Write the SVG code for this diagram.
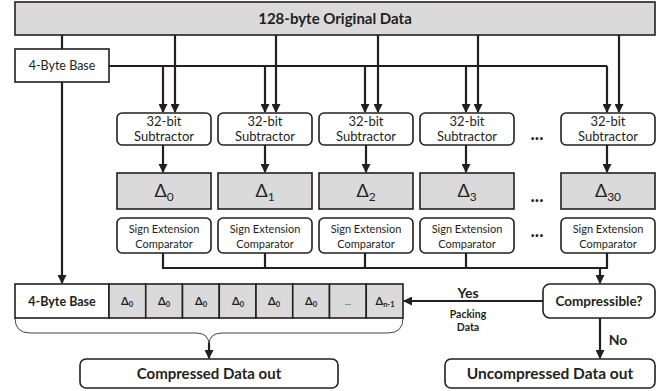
<svg xmlns="http://www.w3.org/2000/svg" width="661" height="391" viewBox="0 0 661 391">
  <style>
    text { font-family: Lato, "Open Sans", "Liberation Sans", sans-serif; fill: #231f20; text-anchor: middle; }
    .box { fill: #ffffff; stroke: #231f20; stroke-width: 1.6; }
    .gray { fill: #dadada; stroke: #231f20; stroke-width: 1.6; }
    .wire { fill: none; stroke: #231f20; stroke-width: 2.2; }
    .thin { fill: none; stroke: #444; stroke-width: 1; }
    .b { font-weight: bold; }
    .sub { font-size: 13px; }
    .cmp { font-size: 11px; }
    .dl { font-size: 18px; }
    .rd { font-size: 11px; font-weight: bold; }
    .dots { font-size: 18px; font-weight: bold; }
  </style>
  <defs>
    <marker id="arr" markerWidth="9" markerHeight="9" refX="8" refY="4.5" orient="auto" markerUnits="userSpaceOnUse">
      <path d="M0,0 L9,4.5 L0,9 Z" fill="#231f20"/>
    </marker>
  </defs>

  <rect width="661" height="391" fill="#ffffff"/>

  <!-- connectors -->
  <g id="connectors">
    <!-- original data to base and subtractors -->
    <path class="wire" d="M62,35 V49"/>
    <path class="wire" d="M109,66 H607"/>
    <path class="wire" marker-end="url(#arr)" d="M163,66 V112"/>
    <path class="wire" marker-end="url(#arr)" d="M265,66 V112"/>
    <path class="wire" marker-end="url(#arr)" d="M365,66 V112"/>
    <path class="wire" marker-end="url(#arr)" d="M466,66 V112"/>
    <path class="wire" marker-end="url(#arr)" d="M607,66 V112"/>
    <path class="wire" marker-end="url(#arr)" d="M175,35 V112"/>
    <path class="wire" marker-end="url(#arr)" d="M276,35 V112"/>
    <path class="wire" marker-end="url(#arr)" d="M378,35 V112"/>
    <path class="wire" marker-end="url(#arr)" d="M478,35 V112"/>
    <path class="wire" marker-end="url(#arr)" d="M619,35 V112"/>
    <!-- subtractor to delta -->
    <path class="wire" marker-end="url(#arr)" d="M163,145 V172"/>
    <path class="wire" marker-end="url(#arr)" d="M265,145 V172"/>
    <path class="wire" marker-end="url(#arr)" d="M366,145 V172"/>
    <path class="wire" marker-end="url(#arr)" d="M466,145 V172"/>
    <path class="wire" marker-end="url(#arr)" d="M607,145 V172"/>
    <!-- comparators to decision -->
    <path class="wire" d="M163,253 V268 H607 V253 M265,253 V268 M365,253 V268 M466,253 V268"/>
    <path class="wire" marker-end="url(#arr)" d="M600,268 V283"/>
    <!-- base straight into the packed register -->
    <path class="wire" marker-end="url(#arr)" d="M62,82 V283"/>
    <!-- yes / no -->
    <path class="wire" marker-end="url(#arr)" d="M543,301 H404"/>
    <path class="wire" marker-end="url(#arr)" d="M600,318 V358"/>
    <!-- brace under the register -->
    <path class="thin" d="M15,318 Q15,333 30,333 H196 Q209,333 209,345 Q209,333 222,333 H388 Q403,333 403,318"/>
    <path class="wire" marker-end="url(#arr)" d="M209,343 V358"/>
  </g>

  <g id="original-data">
    <rect class="gray" x="15" y="2" width="640" height="33" fill="#dedede"/>
    <text class="b" x="335" y="24" font-size="15">128-byte Original Data</text>
  </g>

  <g id="base">
    <rect class="box" x="15" y="49" width="94" height="33"/>
    <text x="62" y="70" font-size="12.5">4-Byte Base</text>
  </g>

  <g id="subtractor-0">
    <rect class="box" x="117" y="113" width="94" height="32" rx="5"/>
    <text class="sub" x="164" y="126">32-bit</text>
    <text class="sub" x="164" y="141">Subtractor</text>
  </g>
  <g id="subtractor-1">
    <rect class="box" x="218" y="113" width="94" height="32" rx="5"/>
    <text class="sub" x="265" y="126">32-bit</text>
    <text class="sub" x="265" y="141">Subtractor</text>
  </g>
  <g id="subtractor-2">
    <rect class="box" x="319" y="113" width="94" height="32" rx="5"/>
    <text class="sub" x="366" y="126">32-bit</text>
    <text class="sub" x="366" y="141">Subtractor</text>
  </g>
  <g id="subtractor-3">
    <rect class="box" x="420" y="113" width="94" height="32" rx="5"/>
    <text class="sub" x="467" y="126">32-bit</text>
    <text class="sub" x="467" y="141">Subtractor</text>
  </g>
  <g id="subtractor-30">
    <rect class="box" x="561" y="113" width="94" height="32" rx="5"/>
    <text class="sub" x="608" y="126">32-bit</text>
    <text class="sub" x="608" y="141">Subtractor</text>
  </g>

  <g id="delta-0">
    <rect class="gray" x="117" y="173" width="94" height="36"/>
    <text class="dl" x="164" y="197">Δ<tspan font-size="12" dy="4">0</tspan></text>
  </g>
  <g id="delta-1">
    <rect class="gray" x="218" y="173" width="94" height="36"/>
    <text class="dl" x="265" y="197">Δ<tspan font-size="12" dy="4">1</tspan></text>
  </g>
  <g id="delta-2">
    <rect class="gray" x="319" y="173" width="94" height="36"/>
    <text class="dl" x="366" y="197">Δ<tspan font-size="12" dy="4">2</tspan></text>
  </g>
  <g id="delta-3">
    <rect class="gray" x="420" y="173" width="94" height="36"/>
    <text class="dl" x="467" y="197">Δ<tspan font-size="12" dy="4">3</tspan></text>
  </g>
  <g id="delta-30">
    <rect class="gray" x="561" y="173" width="94" height="36"/>
    <text class="dl" x="608" y="197">Δ<tspan font-size="12" dy="4">30</tspan></text>
  </g>

  <g id="comparator-0">
    <rect class="box" x="117" y="218" width="94" height="35" rx="5"/>
    <text class="cmp" x="164" y="233">Sign Extension</text>
    <text class="cmp" x="164" y="248">Comparator</text>
  </g>
  <g id="comparator-1">
    <rect class="box" x="218" y="218" width="94" height="35" rx="5"/>
    <text class="cmp" x="265" y="233">Sign Extension</text>
    <text class="cmp" x="265" y="248">Comparator</text>
  </g>
  <g id="comparator-2">
    <rect class="box" x="319" y="218" width="94" height="35" rx="5"/>
    <text class="cmp" x="366" y="233">Sign Extension</text>
    <text class="cmp" x="366" y="248">Comparator</text>
  </g>
  <g id="comparator-3">
    <rect class="box" x="420" y="218" width="94" height="35" rx="5"/>
    <text class="cmp" x="467" y="233">Sign Extension</text>
    <text class="cmp" x="467" y="248">Comparator</text>
  </g>
  <g id="comparator-30">
    <rect class="box" x="561" y="218" width="94" height="35" rx="5"/>
    <text class="cmp" x="608" y="233">Sign Extension</text>
    <text class="cmp" x="608" y="248">Comparator</text>
  </g>

  <g id="ellipses">
    <text class="dots" x="537" y="140">...</text>
    <text class="dots" x="537" y="202">...</text>
    <text class="dots" x="537" y="237">...</text>
  </g>

  <g id="packed-register">
    <rect class="box" x="15" y="284" width="94" height="34"/>
    <rect class="gray" x="109" y="284" width="36.75" height="34"/>
    <rect class="gray" x="145.75" y="284" width="36.75" height="34"/>
    <rect class="gray" x="182.5" y="284" width="36.75" height="34"/>
    <rect class="gray" x="219.25" y="284" width="36.75" height="34"/>
    <rect class="gray" x="256" y="284" width="36.75" height="34"/>
    <rect class="gray" x="292.75" y="284" width="36.75" height="34"/>
    <rect class="gray" x="329.5" y="284" width="36.75" height="34"/>
    <rect class="gray" x="366.25" y="284" width="36.75" height="34"/>
    <text class="b" x="62" y="306" font-size="12.5">4-Byte Base</text>
    <text class="rd" x="127" y="305">Δ<tspan font-size="7.5" dy="2">0</tspan></text>
    <text class="rd" x="164" y="305">Δ<tspan font-size="7.5" dy="2">0</tspan></text>
    <text class="rd" x="201" y="305">Δ<tspan font-size="7.5" dy="2">0</tspan></text>
    <text class="rd" x="238" y="305">Δ<tspan font-size="7.5" dy="2">0</tspan></text>
    <text class="rd" x="274" y="305">Δ<tspan font-size="7.5" dy="2">0</tspan></text>
    <text class="rd" x="311" y="305">Δ<tspan font-size="7.5" dy="2">0</tspan></text>
    <text x="348" y="305" font-size="8">…</text>
    <text class="rd" x="385" y="305">Δ<tspan font-size="7.5" dy="2">n-1</tspan></text>
  </g>

  <g id="compressible">
    <rect class="box" x="543" y="284" width="112" height="34" rx="7"/>
    <text class="b" x="599" y="306" font-size="13.5">Compressible?</text>
  </g>

  <g id="labels">
    <text class="b" x="468" y="298" font-size="14">Yes</text>
    <text class="b" x="468" y="318" font-size="10.5">Packing</text>
    <text class="b" x="468" y="331" font-size="10.5">Data</text>
    <text class="b" x="618" y="345" font-size="14">No</text>
  </g>

  <g id="compressed-out">
    <rect class="box" x="80" y="359" width="258" height="29" rx="6"/>
    <text class="b" x="209" y="379" font-size="15">Compressed Data out</text>
  </g>

  <g id="uncompressed-out">
    <rect class="box" x="445" y="359" width="210" height="29" rx="6"/>
    <text class="b" x="550" y="379" font-size="15.5">Uncompressed Data out</text>
  </g>
</svg>
